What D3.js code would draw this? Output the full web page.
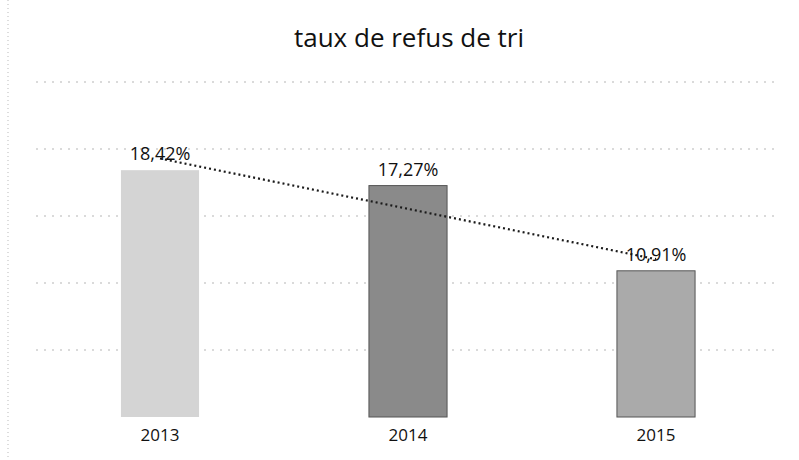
<!DOCTYPE html>
<html>
<head>
<meta charset="utf-8">
<script src="https://cdn.jsdelivr.net/npm/d3@7"></script>
<style>
  html, body { margin: 0; padding: 0; background: #fff; }
  svg { display: block; }
</style>
</head>
<body>
<script>
const width = 799;
const height = 460;

// data
const years = ["2013", "2014", "2015"];
const rates = [18.42, 17.27, 10.91];
const barColors = ["#d4d4d4", "#8a8a8a", "#aaaaaa"];
const gridTicks = [5, 10, 15, 20, 25];
const title = "taux de refus de tri";

const font = "'Open Sans', Lato, sans-serif";

const svg = d3.select("body").append("svg")
    .attr("width", width)
    .attr("height", height);

const x = d3.scaleBand()
    .domain(years)
    .range([36, 780])
    .paddingInner(0.685)
    .paddingOuter(0.3425);

const y = d3.scaleLinear()
    .domain([0, 25])
    .range([417, 82]);

// faint scanned border on the left
svg.append("line")
    .attr("x1", 8).attr("x2", 8)
    .attr("y1", 0).attr("y2", height)
    .attr("stroke", "#bbb")
    .attr("stroke-dasharray", "1,3");

// title
svg.append("text")
    .attr("x", 409)
    .attr("y", 47)
    .attr("text-anchor", "middle")
    .attr("font-family", font)
    .attr("font-size", 26)
    .attr("fill", "#111")
    .text(title);

// gridlines (dotted, faint)
svg.append("g")
    .selectAll("line")
    .data(gridTicks)
    .enter().append("line")
    .attr("x1", 36).attr("x2", 780)
    .attr("y1", d => y(d)).attr("y2", d => y(d))
    .attr("stroke", "#b5b5b5")
    .attr("stroke-width", 1)
    .attr("stroke-dasharray", "2,6");

// bars
svg.append("g")
    .selectAll("rect")
    .data(rates)
    .enter().append("rect")
    .attr("x", (d, i) => x(years[i]))
    .attr("y", d => y(d))
    .attr("width", x.bandwidth())
    .attr("height", d => y(0) - y(d))
    .attr("fill", (d, i) => barColors[i])
    .attr("stroke", (d, i) => i === 0 ? "none" : "#555")
    .attr("stroke-width", 1);

// x axis labels
svg.append("g")
    .selectAll("text")
    .data(years)
    .enter().append("text")
    .attr("x", d => x(d) + x.bandwidth() / 2)
    .attr("y", 441)
    .attr("text-anchor", "middle")
    .attr("font-family", font)
    .attr("font-size", 17)
    .attr("fill", "#111")
    .text(d => d);

// linear trendline through the three values
const xs = rates.map((_, i) => i + 1);
const mx = d3.mean(xs), my = d3.mean(rates);
const slope = d3.sum(xs, (v, i) => (v - mx) * (rates[i] - my)) / d3.sum(xs, v => (v - mx) ** 2);
const trend = xs.map(v => my + slope * (v - mx));

const line = d3.line()
    .x((d, i) => x(years[i]) + x.bandwidth() / 2)
    .y(d => y(d));

svg.append("path")
    .datum(trend)
    .attr("d", line)
    .attr("fill", "none")
    .attr("stroke", "#1a1a1a")
    .attr("stroke-width", 2.2)
    .attr("stroke-dasharray", "2,3");

// value labels
svg.append("g")
    .selectAll("text")
    .data(rates)
    .enter().append("text")
    .attr("x", (d, i) => x(years[i]) + x.bandwidth() / 2)
    .attr("y", d => y(d) - 10)
    .attr("text-anchor", "middle")
    .attr("font-family", font)
    .attr("font-size", 18)
    .attr("fill", "#111")
    .text(d => d.toFixed(2).replace(".", ",") + "%");
</script>
</body>
</html>
